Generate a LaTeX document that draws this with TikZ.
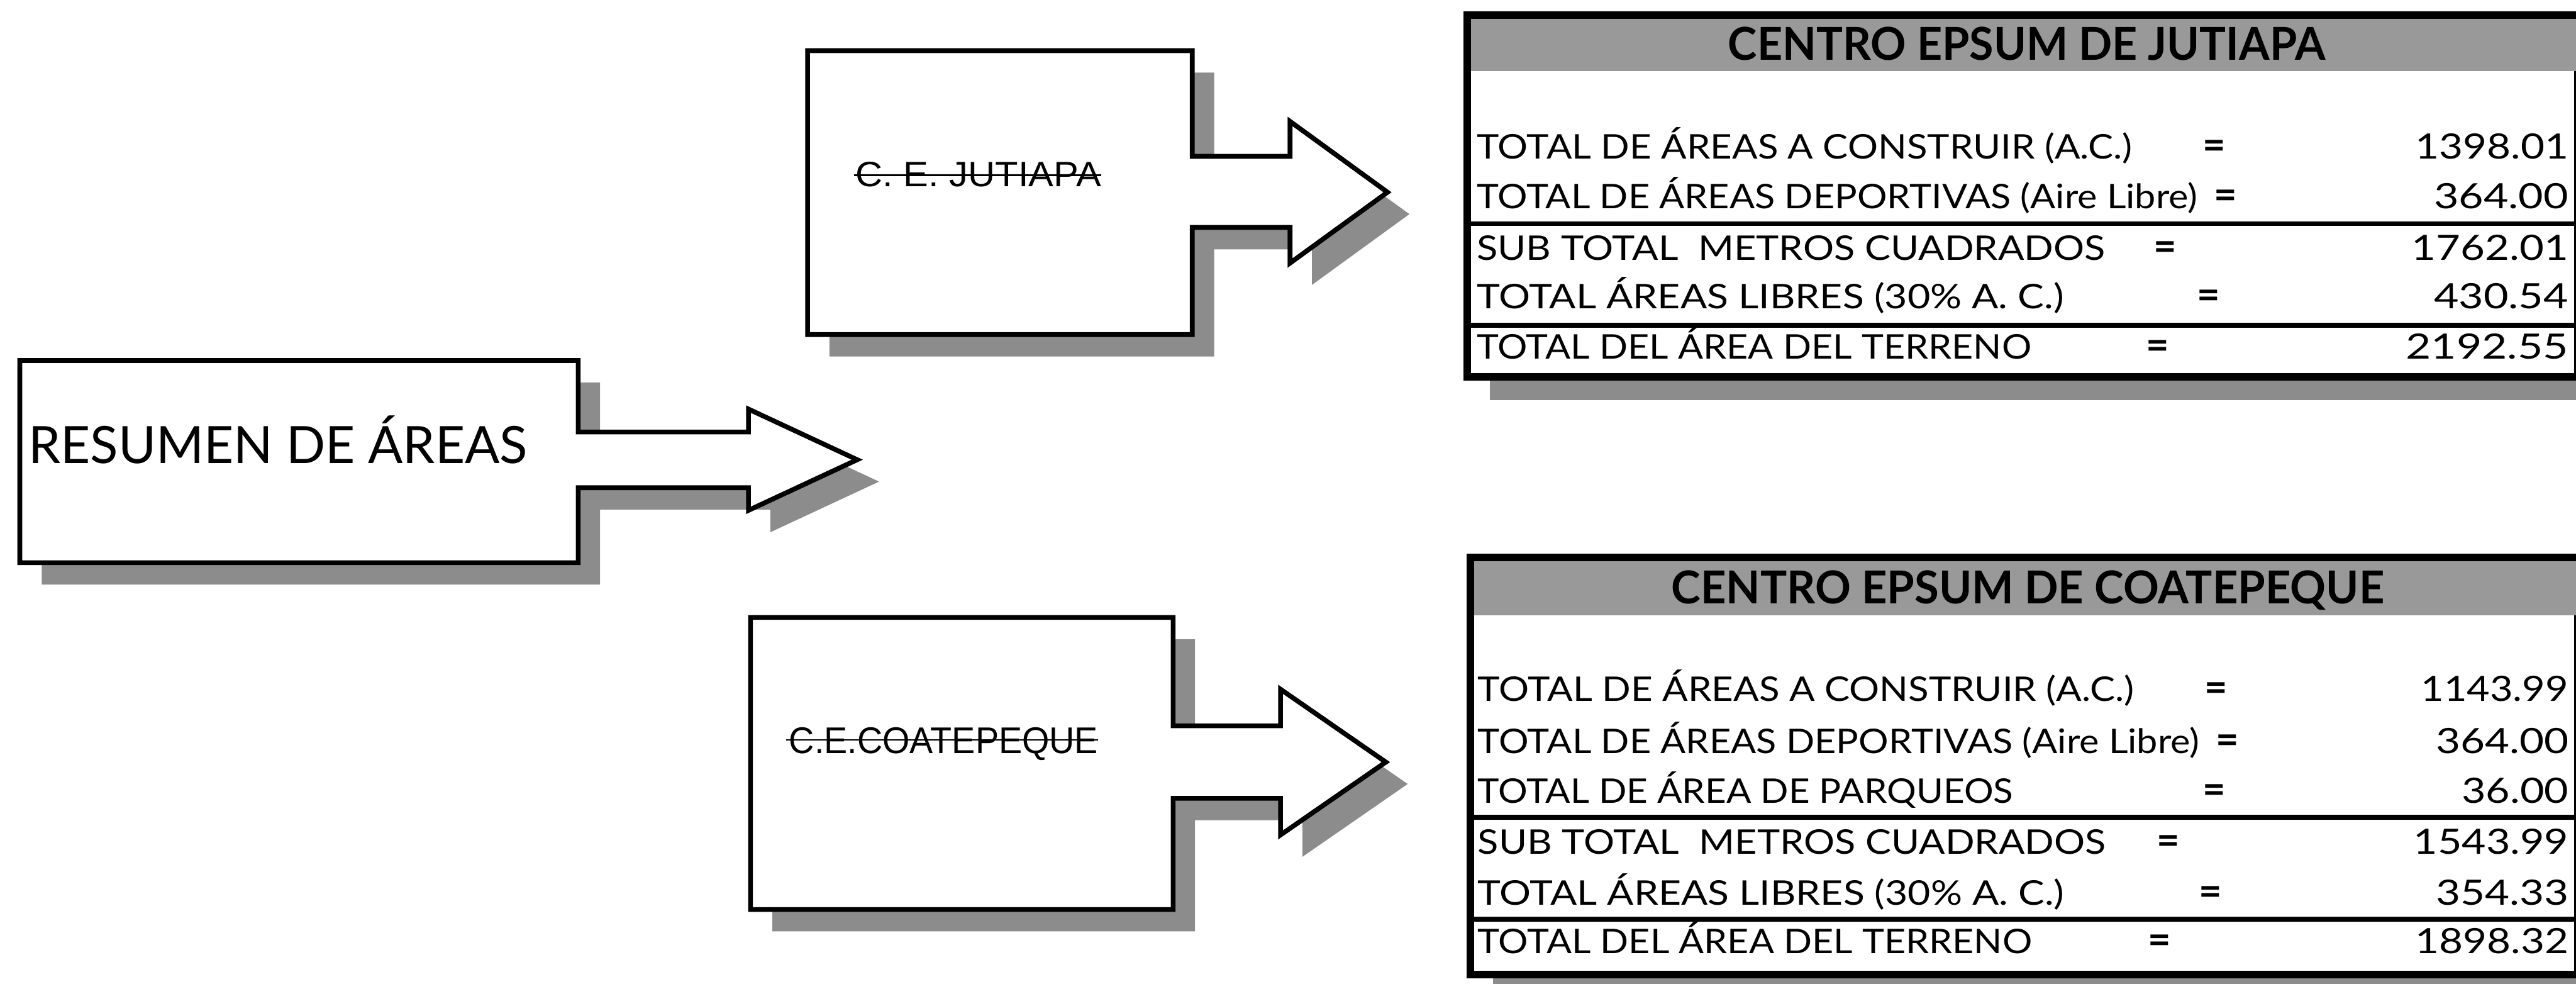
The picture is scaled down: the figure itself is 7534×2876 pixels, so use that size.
\documentclass[tikz,border=0pt]{standalone}
\usepackage{fontspec}
\usepackage{graphicx}
\setmainfont{Lato}
\newfontfamily\labelfont{Liberation Sans}

% outlines of the block arrows (box + shaft + head), in 0.1 mm units
\newcommand\resumenshape{(58,1054) -- (1691,1054) -- (1691,1263) -- (2189,1263) -- (2189,1196) -- (2507,1344) -- (2189,1492) -- (2189,1426) -- (1691,1426) -- (1691,1645) -- (58,1645) -- cycle}
\newcommand\jutiapashape{(2362,148) -- (3487,148) -- (3487,457) -- (3773,457) -- (3773,355) -- (4058,562) -- (3773,769) -- (3773,665) -- (3487,665) -- (3487,978) -- (2362,978) -- cycle}
\newcommand\coatepequeshape{(2195,1805) -- (3431,1805) -- (3431,2122) -- (3745,2122) -- (3745,2015) -- (4053,2228) -- (3745,2441) -- (3745,2334) -- (3431,2334) -- (3431,2659) -- (2195,2659) -- cycle}

\begin{document}
\begin{tikzpicture}[x=0.01cm,y=-0.01cm,
  outline/.style={draw=black,line width=1.4mm,line join=miter,fill=white},
  stipple/.style={fill=black!45},
  band/.style={fill=black!40},
  tableframe/.style={draw=black,line width=2.2mm,fill=white},
  rule/.style={draw=black,line width=1.4mm},
  strike/.style={draw=black,line width=0.5mm},
  txt/.style={inner sep=0pt,outer sep=0pt,anchor=base west},
  rowtext/.style={txt,font=\fontsize{28.2pt}{34pt}\selectfont},
  num/.style={inner sep=0pt,outer sep=0pt,anchor=base east,font=\fontsize{29pt}{34pt}\selectfont},
  eq/.style={inner sep=0pt,outer sep=0pt,anchor=base,font=\bfseries\fontsize{33pt}{38pt}\selectfont},
  head/.style={txt,font=\bfseries\fontsize{37.7pt}{44pt}\selectfont},
]
\path[use as bounding box] (0,0) rectangle (7534,2876);
\clip (0,0) rectangle (7534,2876);

% ---- block arrows with drop shadows ----
\begin{scope}[shift={(64,64)}]
  \fill[stipple] \resumenshape;
  \fill[stipple] \jutiapashape;
  \fill[stipple] \coatepequeshape;
\end{scope}
\draw[outline] \resumenshape;
\draw[outline] \jutiapashape;
\draw[outline] \coatepequeshape;

\node[txt,font=\fontsize{42.8pt}{50pt}\selectfont] (resumen) at (83,1355)
  {\resizebox{145.9mm}{\height}{RESUMEN DE ÁREAS}};
\node[txt,font=\labelfont\fontsize{29.3pt}{35pt}\selectfont] (jlabel) at (2503,546)
  {\resizebox{71.7mm}{\height}{C. E. JUTIAPA}};
\draw[strike] ([xshift=-0.6mm,yshift=3.4mm]jlabel.base west) -- ([yshift=3.4mm]jlabel.base east);
\node[txt,font=\labelfont\fontsize{30.9pt}{36pt}\selectfont] (clabel) at (2308,2202)
  {\resizebox{90.3mm}{\height}{C.E.COATEPEQUE}};
\draw[strike] ([xshift=-0.8mm,yshift=3.9mm]clabel.base west) -- ([yshift=3.9mm]clabel.base east);

% ---- table: Jutiapa ----
\fill[stipple] (4358,100) rectangle (7600,1170);
\draw[tableframe] (4291,44) rectangle (7540,1102);
\fill[band] (4302,55) rectangle (7534,207);
\draw[rule] (4291,654) -- (7540,654);
\draw[rule] (4291,951) -- (7540,951);
\node[head] (jhead) at (5054,176) {\resizebox{174.6mm}{\height}{CENTRO EPSUM DE JUTIAPA}};

\node[rowtext] (j1) at (4319,464) {\resizebox{191.6mm}{\height}{TOTAL DE ÁREAS A CONSTRUIR (A.C.)}};
\node[eq] (j1eq) at (6476,464) {=};
\node[num] (j1v) at (7512,464) {\resizebox{44.8mm}{\height}{1398.01}};

\node[rowtext] (j2) at (4319,610) {\resizebox{210.6mm}{\height}{TOTAL DE ÁREAS DEPORTIVAS (Aire Libre)}};
\node[eq] (j2eq) at (6509,610) {=};
\node[num] (j2v) at (7512,610) {\resizebox{39.3mm}{\height}{364.00}};

\node[rowtext] (j3) at (4319,760) {\resizebox{183.7mm}{\height}{SUB TOTAL~~METROS CUADRADOS}};
\node[eq] (j3eq) at (6332,760) {=};
\node[num] (j3v) at (7512,760) {\resizebox{45.8mm}{\height}{1762.01}};

\node[rowtext] (j4) at (4319,902) {\resizebox{171.6mm}{\height}{TOTAL ÁREAS LIBRES (30\% A. C.)}};
\node[eq] (j4eq) at (6460,902) {=};
\node[num] (j4v) at (7512,902) {\resizebox{39.3mm}{\height}{430.54}};

\node[rowtext] (j5) at (4319,1049) {\resizebox{162.1mm}{\height}{TOTAL DEL ÁREA DEL TERRENO}};
\node[eq] (j5eq) at (6311,1049) {=};
\node[num] (j5v) at (7512,1049) {\resizebox{47.5mm}{\height}{2192.55}};

% ---- table: Coatepeque ----
\fill[stipple] (4367,1690) rectangle (7600,2920);
\draw[tableframe] (4300,1630) rectangle (7540,2850);
\fill[band] (4311,1641) rectangle (7534,1798);
\draw[rule] (4300,2389) -- (7540,2389);
\draw[rule] (4300,2687) -- (7540,2687);
\node[head] (chead) at (4888,1765) {\resizebox{208.4mm}{\height}{CENTRO EPSUM DE COATEPEQUE}};

\node[rowtext] (c1) at (4322,2050) {\resizebox{191.8mm}{\height}{TOTAL DE ÁREAS A CONSTRUIR (A.C.)}};
\node[eq] (c1eq) at (6482,2050) {=};
\node[num] (c1v) at (7512,2050) {\resizebox{43.1mm}{\height}{1143.99}};

\node[rowtext] (c2) at (4322,2202) {\resizebox{210.9mm}{\height}{TOTAL DE ÁREAS DEPORTIVAS (Aire Libre)}};
\node[eq] (c2eq) at (6514,2202) {=};
\node[num] (c2v) at (7512,2202) {\resizebox{38.8mm}{\height}{364.00}};

\node[rowtext] (c3) at (4322,2348) {\resizebox{156.5mm}{\height}{TOTAL DE ÁREA DE PARQUEOS}};
\node[eq] (c3eq) at (6476,2348) {=};
\node[num] (c3v) at (7512,2348) {\resizebox{31.2mm}{\height}{36.00}};

\node[rowtext] (c4) at (4322,2497) {\resizebox{183.6mm}{\height}{SUB TOTAL~~METROS CUADRADOS}};
\node[eq] (c4eq) at (6341,2497) {=};
\node[num] (c4v) at (7512,2497) {\resizebox{45.3mm}{\height}{1543.99}};

\node[rowtext] (c5) at (4322,2645) {\resizebox{171.4mm}{\height}{TOTAL ÁREAS LIBRES (30\% A. C.)}};
\node[eq] (c5eq) at (6465,2645) {=};
\node[num] (c5v) at (7512,2645) {\resizebox{38.8mm}{\height}{354.33}};

\node[rowtext] (c6) at (4322,2787) {\resizebox{162.0mm}{\height}{TOTAL DEL ÁREA DEL TERRENO}};
\node[eq] (c6eq) at (6316,2787) {=};
\node[num] (c6v) at (7512,2787) {\resizebox{44.8mm}{\height}{1898.32}};
\end{tikzpicture}
\end{document}
